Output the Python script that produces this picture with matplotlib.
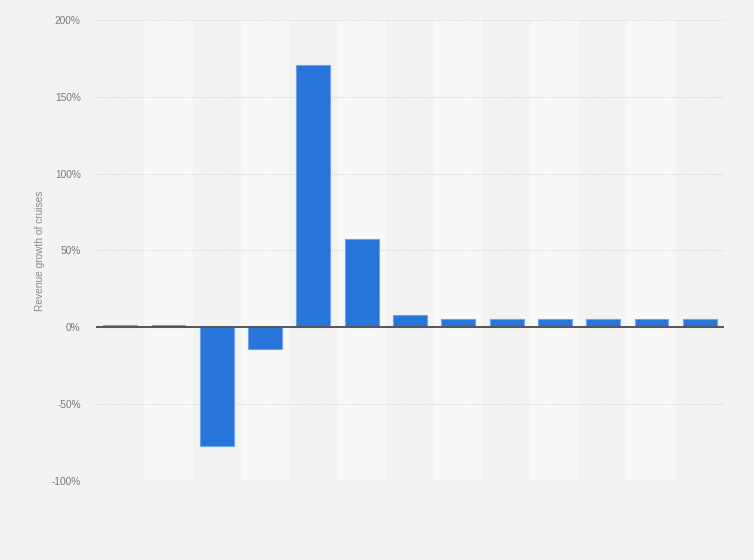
import matplotlib
matplotlib.use("Agg")
import matplotlib.pyplot as plt
import numpy as np

plt.rcParams["font.family"] = ["Liberation Sans", "DejaVu Sans"]

categories = ["2017", "2018", "2019", "2020", "2021", "2022", "2023",
              "2024", "2025", "2026", "2027", "2028", "2029"]
growth = [1.4, 1.4, -77.5, -13.9, 170.6, 57.2, 7.8, 5.7, 5.7, 5.1, 5.1, 5.1, 5.1]
yticks = [-100, -50, 0, 50, 100, 150, 200]
ytick_labels = ["-100%", "-50%", "0%", "50%", "100%", "150%", "200%"]

fig = plt.figure(figsize=(7.54, 5.6), dpi=100)
fig.patch.set_facecolor("#f3f3f3")
ax = fig.add_axes([96/754, 79/560, 628/754, 461/560])
ax.set_facecolor("#f3f3f3")

x = np.arange(len(categories))
for i in x:
    if i % 2 == 1:
        ax.axvspan(i - 0.5, i + 0.5, color="#f8f8f8", zorder=0, lw=0)

ax.bar(x, growth, width=0.7, color="#2775db", edgecolor="#6aa3ea",
       linewidth=0.8, zorder=3)
ax.axhline(0, color="#555555", lw=1.4, zorder=4)

ax.set_xlim(-0.5, len(categories) - 0.5)
ax.set_ylim(-100, 200)
ax.set_yticks(yticks)
ax.set_yticklabels(ytick_labels, color="#777777", fontsize=7.3)
ax.set_xticks([])
for yv in yticks:
    if yv != 0:
        ax.axhline(yv, color="#dadada", lw=0.8, ls=(0, (1, 1)), zorder=1)
ax.tick_params(axis="y", length=0, pad=11)
for s in ax.spines.values():
    s.set_visible(False)
ax.set_ylabel("Revenue growth of cruises", color="#888888", fontsize=7.3)
ax.yaxis.set_label_coords(-0.081, 0.5)

fig.savefig("out.png", dpi=100, facecolor=fig.get_facecolor())
